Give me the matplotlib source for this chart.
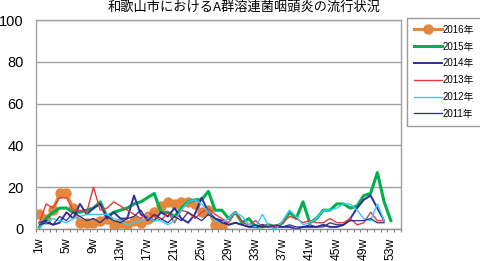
import matplotlib
matplotlib.use("Agg")
import matplotlib.pyplot as plt

plt.rcParams['font.family'] = ['Liberation Sans', 'Noto Sans CJK JP', 'DejaVu Sans']

# --- data (weekly counts) ---
n_slots = 54          # the category axis has one empty slot after week 53
weeks = list(range(1, 54))
tick_weeks = list(range(1, 54, 4))
tick_labels = [f"{w}w" for w in tick_weeks]

y2016 = [7, 5, 9, 17, 17, 10, 3, 3, 3, 4, 5, 2, 3, 2, 4, 3, 5, 8, 11, 13,
         12, 13, 13, 12, 8, 9, 2, 1]
y2015 = [1, 5, 8, 10, 10, 8, 8, 9, 10, 13, 6, 8, 9, 10, 12, 13, 15, 17, 8, 8,
         6, 10, 13, 14, 14, 18, 9, 9, 5, 8, 3, 5, 1, 1, 2, 1, 3, 8, 5, 13,
         3, 5, 9, 9, 12, 12, 10, 11, 16, 17, 27, 13, 4]
y2014 = [3, 4, 2, 3, 8, 5, 12, 7, 10, 12, 5, 8, 5, 5, 16, 7, 5, 4, 8, 6,
         10, 5, 3, 7, 15, 8, 5, 4, 2, 3, 2, 1, 1, 2, 1, 1, 1, 1, 0, 1,
         1, 1, 2, 1, 1, 2, 5, 10, 14, 16, 10, 4]
y2013 = [3, 12, 10, 15, 15, 9, 9, 8, 20, 9, 10, 13, 11, 9, 7, 5, 8, 6, 4, 8,
         3, 9, 8, 5, 8, 10, 7, 5, 3, 8, 3, 2, 4, 1, 2, 1, 3, 6, 5, 3,
         4, 3, 3, 5, 3, 3, 5, 2, 3, 8, 4, 4]
y2012 = [1, 3, 5, 4, 3, 5, 6, 7, 7, 7, 7, 5, 4, 2, 3, 4, 5, 4, 4, 2,
         4, 9, 13, 14, 12, 8, 4, 3, 5, 8, 6, 2, 1, 7, 1, 0, 4, 9, 6, 2,
         3, 5, 9, 9, 10, 12, 12, 9, 5, 4, 12, 4]
y2011 = [2, 3, 2, 6, 4, 8, 6, 4, 5, 3, 6, 4, 3, 5, 6, 9, 4, 7, 5, 3,
         6, 4, 8, 6, 4, 7, 5, 3, 2, 3, 2, 1, 2, 1, 1, 2, 1, 2, 1, 1,
         2, 1, 1, 3, 2, 2, 4, 4, 4, 5, 3, 3]

series = [
    ("2016年", y2016, "#E5873A", 2.2, "o"),
    ("2015年", y2015, "#00B050", 2.2, None),
    ("2014年", y2014, "#2E2E9E", 1.4, None),
    ("2013年", y2013, "#E53B3B", 1.0, None),
    ("2012年", y2012, "#33CCFF", 1.0, None),
    ("2011年", y2011, "#2B2B80", 0.9, None),
]

fig = plt.figure(figsize=(4.8, 2.61), dpi=100)
ax = fig.add_axes([36 / 480, 32 / 261, 365 / 480, 209 / 261])

for label, vals, color, lw, marker in series:
    ax.plot(weeks[:len(vals)], vals, color=color, lw=lw, label=label,
            marker=marker, markersize=7.5 if marker else 0,
            markeredgewidth=0)

ax.set_xlim(0.5, n_slots + 0.5)
ax.set_ylim(0, 100)
ax.set_yticks([0, 20, 40, 60, 80, 100])
ax.yaxis.grid(True, color="#A0A0A0", lw=1)
ax.set_axisbelow(True)

ax.set_xticks(tick_weeks)
ax.set_xticklabels(tick_labels, rotation=90, fontsize=8.8)
ax.set_xticks([w + 0.5 for w in range(0, n_slots + 1)], minor=True)
ax.tick_params(axis="x", which="major", length=0, pad=6)
ax.tick_params(axis="x", which="minor", length=2.5, color="#808080", width=0.8)
ax.tick_params(axis="y", length=0, labelsize=10.5, pad=9)

for s in ax.spines.values():
    s.set_color("#A0A0A0")
    s.set_linewidth(1)
ax.spines["bottom"].set_color("#909090")

fig.text(244 / 480, 1 - 8 / 261, "和歌山市におけるA群溶連菌咽頭炎の流行状況",
         ha="center", va="center", fontsize=9.5,
         family=['Noto Sans CJK JP', 'DejaVu Sans'])

leg = fig.legend(loc="upper left",
                 bbox_to_anchor=(407 / 480, 1 - 18 / 261),
                 fontsize=7, frameon=True, fancybox=False,
                 edgecolor="#808080", handlelength=2.9, handletextpad=0.1,
                 labelspacing=0.7, borderpad=0.7, borderaxespad=0)
leg.get_frame().set_linewidth(1)

fig.savefig("out.png", dpi=100)
